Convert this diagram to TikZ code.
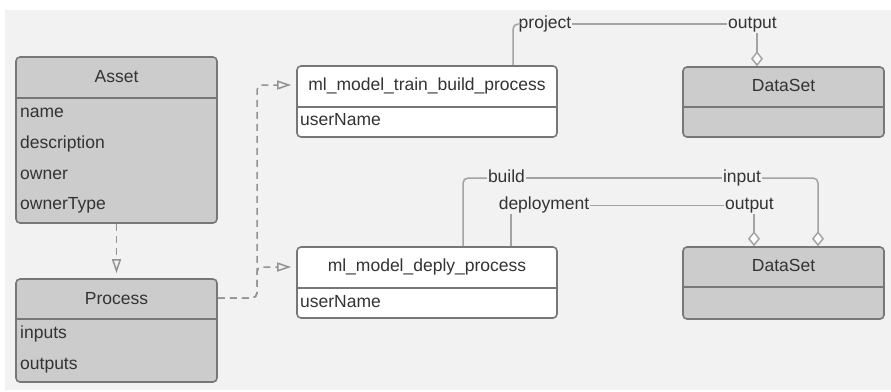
\documentclass[tikz,border=0pt]{standalone}
\usepackage{fontspec}
\setmainfont{Liberation Sans}
\usetikzlibrary{arrows.meta}
\definecolor{bggray}{HTML}{F2F2F2}
\definecolor{boxgray}{HTML}{CCCCCC}
\definecolor{bordergray}{HTML}{777777}
\definecolor{linegray}{HTML}{A3A3A3}
\definecolor{txtgray}{HTML}{333333}
\tikzset{
  classbox/.style={draw=bordergray, line width=1.6pt, rounded corners=4pt, fill=boxgray, inner sep=0pt},
  whitebox/.style={classbox, fill=white},
  sepline/.style={draw=bordergray, line width=1.6pt},
  title/.style={font=\fontsize{17.5pt}{20pt}\selectfont, text=txtgray, inner sep=0pt, anchor=base},
  attr/.style={font=\fontsize{17.5pt}{20pt}\selectfont, text=txtgray, inner sep=0pt, anchor=base west},
  lbl/.style={font=\fontsize{17.5pt}{20pt}\selectfont, text=txtgray, inner sep=1pt, anchor=base},
  assoc/.style={draw=linegray, line width=1.5pt, rounded corners=5pt},
  agg/.style={assoc, -{Diamond[fill=white, length=15pt, width=12pt]}},
  realize/.style={draw=linegray!90!black, line width=1.5pt, dash pattern=on 7pt off 5pt, rounded corners=5pt,
     -{Triangle[open, length=14pt, width=9pt]}, shorten >=5pt}
}
\begin{document}
\begin{tikzpicture}[x=1pt, y=-1pt]
\useasboundingbox (0,0) rectangle (891,391);
\fill[white] (0,0) rectangle (891,391);
\fill[bggray] (5,10) rectangle (891,390);

% Asset
\node[classbox, minimum width=201pt, minimum height=166pt] (asset) at (116.5,140) {};
\draw[sepline] (asset.west |- 0,98) -- (asset.east |- 0,98);
\node[title] (assett) at (116.5,82) {Asset};
\node[attr] (a1) at (20,117) {name};
\node[attr] (a2) at (20,148) {description};
\node[attr] (a3) at (20,179) {owner};
\node[attr] (a4) at (20,209) {ownerType};

% Process
\node[classbox, minimum width=201pt, minimum height=103pt] (proc) at (116.5,330.5) {};
\draw[sepline] (proc.west |- 0,319) -- (proc.east |- 0,319);
\node[title] (proct) at (116.5,304) {Process};
\node[attr] (p1) at (20,338) {inputs};
\node[attr] (p2) at (20,369) {outputs};

% train
\node[whitebox, minimum width=260pt, minimum height=71pt] (train) at (427,101.5) {};
\draw[sepline] (train.west |- 0,107) -- (train.east |- 0,107);
\node[title] (traint) at (427,90) {ml\_model\_train\_build\_process};
\node[attr] (t1) at (300,125) {userName};

% deply
\node[whitebox, minimum width=260pt, minimum height=71pt] (deply) at (427,282.5) {};
\draw[sepline] (deply.west |- 0,288) -- (deply.east |- 0,288);
\node[title] (deplyt) at (427,271.5) {ml\_model\_deply\_process};
\node[attr] (d1) at (300,307.5) {userName};

% DataSets
\node[classbox, minimum width=201pt, minimum height=70pt] (ds1) at (783.5,102) {};
\draw[sepline] (ds1.west |- 0,107) -- (ds1.east |- 0,107);
\node[title] (ds1t) at (783.5,91.5) {DataSet};

\node[classbox, minimum width=201pt, minimum height=72pt] (ds2) at (783.5,283) {};
\draw[sepline] (ds2.west |- 0,287) -- (ds2.east |- 0,287);
\node[title] (ds2t) at (783.5,271.5) {DataSet};

% realization (dashed)
\draw[realize] (asset.south) -- (proc.north);
\coordinate (bend) at (257,298);
\draw[realize] (proc.east |- bend) -- (bend) -- (257,85) -- (train.west |- 0,85);
\draw[realize] (proc.east |- bend) -- (bend) -- (257,267) -- (deply.west |- 0,267);

% project / output
\node[lbl] (proj) at (545,28.5) {project};
\node[lbl] (out1) at (752.5,28.5) {output};
\draw[assoc] (train.north -| 513,0) -- (513,24) -- (proj.west |- 0,24);
\draw[assoc] (proj.east |- 0,24) -- (out1.west |- 0,24);
\draw[agg] (out1.south -| 757,0) -- (ds1.north -| 757,0);

% build / input
\node[lbl] (build) at (506.5,182) {build};
\node[lbl] (inp) at (742,182) {input};
\draw[assoc] (deply.north -| 463,0) -- (463,178) -- (build.west |- 0,178);
\draw[assoc] (build.east |- 0,178) -- (inp.west |- 0,178);
\draw[agg] (inp.east |- 0,178) -- (818,178) -- (ds2.north -| 818,0);

% deployment / output
\node[lbl] (depl) at (544,209.5) {deployment};
\node[lbl] (out2) at (749.5,209.5) {output};
\draw[assoc] (depl.south -| 511,0) -- (deply.north -| 511,0);
\draw[assoc] (depl.east |- 0,205.5) -- (out2.west |- 0,205.5);
\draw[agg] (out2.south -| 754,0) -- (ds2.north -| 754,0);
\end{tikzpicture}
\end{document}
